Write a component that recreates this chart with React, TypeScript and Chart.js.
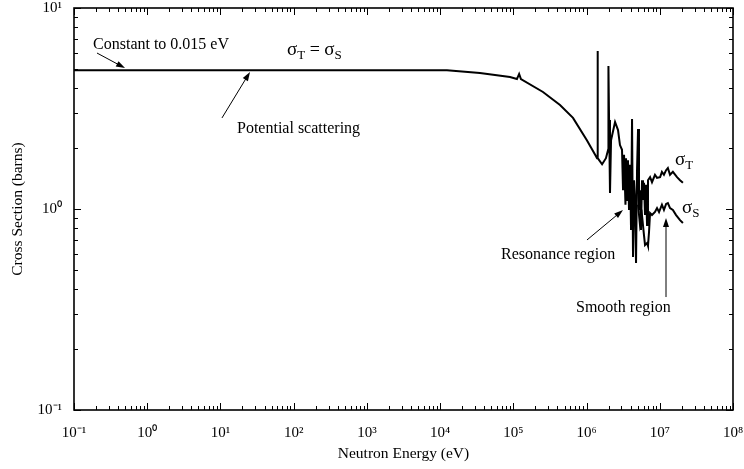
import React, { useEffect, useRef } from "react";
import { Chart, registerables } from "chart.js";

Chart.register(...registerables);

// σ_T (total = scattering below resonances), energy in eV, cross section in barns
const totalEnergy = [
  0.1, 1.24e4, 3.5e4, 9.0e4, 1.12e5, 1.2e5, 1.27e5, 2.54e5, 4.34e5, 6.53e5,
  1.01e6, 1.31e6, 1.39e6, 1.41e6, 1.43e6, 1.63e6, 1.84e6, 1.97e6, 1.99e6, 2.03e6,
  2.09e6, 2.16e6, 2.45e6, 2.69e6, 2.86e6, 3.05e6, 3.15e6, 3.25e6, 3.4e6, 3.46e6,
  3.57e6, 3.68e6, 3.8e6, 3.93e6, 4.05e6, 4.18e6, 4.31e6, 4.45e6, 4.59e6, 4.74e6,
  4.89e6, 5.05e6, 5.2e6, 5.37e6, 5.54e6, 5.72e6, 5.9e6, 6.09e6, 6.29e6, 6.49e6,
  6.7e6, 6.9e6, 7.37e6, 7.83e6, 8.6e6, 9.17e6, 1.01e7, 1.07e7, 1.14e7, 1.22e7,
  1.29e7, 1.38e7, 1.51e7, 1.72e7, 1.89e7, 2.07e7,
];
const totalSigma = [
  4.9, 4.9, 4.75, 4.54, 4.43, 4.7, 4.43, 3.82, 3.29, 2.84,
  2.2, 1.86, 1.79, 6.11, 1.79, 1.67, 1.79, 1.97, 5.14, 2.77,
  1.2, 2.2, 2.71, 2.47, 2.08, 1.97, 1.24, 1.86, 1.05, 1.79,
  1.11, 1.75, 0.989, 1.66, 0.786, 2.8, 0.577, 1.39, 1.11, 0.539,
  1.56, 2.5, 0.989, 1.24, 0.786, 1.39, 1.11, 1.35, 0.933, 1.32,
  0.832, 1.39, 1.44, 1.36, 1.48, 1.43, 1.44, 1.53, 1.48, 1.56,
  1.6, 1.48, 1.53, 1.44, 1.39, 1.35,
];

// σ_S (scattering) above the resonance region
const scatterEnergy = [
  5.05e6, 5.37e6, 5.72e6, 6.09e6, 6.29e6, 6.7e6, 6.9e6, 7.13e6, 7.37e6, 7.83e6,
  8.6e6, 9.17e6, 9.77e6, 1.07e7, 1.14e7, 1.22e7, 1.29e7, 1.38e7, 1.51e7, 1.67e7,
  1.89e7, 2.07e7,
];
const scatterSigma = [
  1.05, 0.83, 0.93, 0.74, 0.662, 0.677, 0.655, 0.768, 0.955, 0.933,
  0.966, 1.01, 0.966, 1.05, 0.989, 1.06, 1.07, 1.01, 0.989, 0.933,
  0.88, 0.852,
];

const xTickValues = [1e-1, 1e0, 1e1, 1e2, 1e3, 1e4, 1e5, 1e6, 1e7, 1e8];
const xTickLabels = ["10⁻¹", "10⁰", "10¹", "10²", "10³", "10⁴", "10⁵", "10⁶", "10⁷", "10⁸"];
const yTickValues = [1e-1, 1e0, 1e1];
const yTickLabels = ["10⁻¹", "10⁰", "10¹"];

const xTitle = "Neutron Energy (eV)";
const yTitle = "Cross Section (barns)";

const SERIF = "'Liberation Serif', 'Times New Roman', serif";

function drawArrow(ctx: CanvasRenderingContext2D, x1: number, y1: number, x2: number, y2: number) {
  const ang = Math.atan2(y2 - y1, x2 - x1);
  const hl = 9;
  const hw = 3;
  ctx.beginPath();
  ctx.moveTo(x1, y1);
  ctx.lineTo(x2 - Math.cos(ang) * hl * 0.8, y2 - Math.sin(ang) * hl * 0.8);
  ctx.stroke();
  ctx.beginPath();
  ctx.moveTo(x2, y2);
  ctx.lineTo(x2 - Math.cos(ang) * hl - Math.sin(ang) * hw, y2 - Math.sin(ang) * hl + Math.cos(ang) * hw);
  ctx.lineTo(x2 - Math.cos(ang) * hl + Math.sin(ang) * hw, y2 - Math.sin(ang) * hl - Math.cos(ang) * hw);
  ctx.closePath();
  ctx.fill();
}

function drawSigma(ctx: CanvasRenderingContext2D, x: number, y: number, sub: string, size: number) {
  ctx.font = `${size}px ${SERIF}`;
  ctx.textBaseline = "middle";
  ctx.textAlign = "left";
  ctx.fillText("σ", x, y);
  const w = ctx.measureText("σ").width;
  ctx.font = `${Math.round(size * 0.7)}px ${SERIF}`;
  ctx.fillText(sub, x + w, y + size * 0.3);
  return x + w + ctx.measureText(sub).width;
}

const framePlugin = {
  id: "frameTicks",
  afterDraw(chart: any) {
    const { ctx, chartArea } = chart;
    const { left, right, top, bottom } = chartArea;
    const xs = chart.scales.x;
    const ys = chart.scales.y;
    ctx.save();
    ctx.strokeStyle = "#000";
    ctx.fillStyle = "#000";
    ctx.lineWidth = 1.6;
    ctx.strokeRect(left, top, right - left, bottom - top);
    ctx.lineWidth = 1;
    // x ticks (inward, bottom and top)
    for (let d = -1; d <= 7; d++) {
      for (let m = 1; m <= 10; m++) {
        const v = m * Math.pow(10, d);
        const px = Math.round(xs.getPixelForValue(v)) + 0.5;
        const len = m === 1 || m === 10 ? 7 : 4;
        ctx.beginPath();
        ctx.moveTo(px, bottom);
        ctx.lineTo(px, bottom - len);
        ctx.moveTo(px, top);
        ctx.lineTo(px, top + len);
        ctx.stroke();
      }
    }
    // y ticks (inward, left and right)
    for (let d = -1; d <= 0; d++) {
      for (let m = 1; m <= 10; m++) {
        const v = m * Math.pow(10, d);
        const py = Math.round(ys.getPixelForValue(v)) + 0.5;
        const len = m === 1 || m === 10 ? 7 : 4;
        ctx.beginPath();
        ctx.moveTo(left, py);
        ctx.lineTo(left + len, py);
        ctx.moveTo(right, py);
        ctx.lineTo(right - len, py);
        ctx.stroke();
      }
    }

    const X = (logE: number) => xs.getPixelForValue(Math.pow(10, logE));
    const Y = (logS: number) => ys.getPixelForValue(Math.pow(10, logS));

    ctx.font = `16px ${SERIF}`;
    ctx.textBaseline = "middle";
    ctx.textAlign = "left";
    ctx.fillText("Constant to 0.015 eV", X(-0.74), Y(0.816));
    ctx.fillText("Potential scattering", X(1.226), Y(0.398));
    ctx.fillText("Resonance region", X(4.832), Y(-0.229));
    ctx.fillText("Smooth region", X(5.856), Y(-0.493));

    // σT = σS
    const eqY = Y(0.79);
    let cx = drawSigma(ctx, X(1.909), eqY, "T", 19);
    ctx.font = `18px ${SERIF}`;
    ctx.fillText(" = ", cx, eqY);
    cx += ctx.measureText(" = ").width;
    drawSigma(ctx, cx, eqY, "S", 19);

    drawSigma(ctx, X(7.208), Y(0.245), "T", 19);
    drawSigma(ctx, X(7.304), Y(0.005), "S", 19);

    ctx.lineWidth = 1;
    drawArrow(ctx, X(-0.686), Y(0.776), X(-0.303), Y(0.701));
    drawArrow(ctx, X(1.021), Y(0.453), X(1.404), Y(0.682));
    drawArrow(ctx, X(6.006), Y(-0.154), X(6.498), Y(-0.005));
    drawArrow(ctx, X(7.085), Y(-0.438), X(7.085), Y(-0.045));
    ctx.restore();
  },
};

export default function App() {
  const canvasRef = useRef<HTMLCanvasElement | null>(null);

  useEffect(() => {
    const canvas = canvasRef.current;
    if (!canvas) return;
    const chart = new Chart(canvas, {
      type: "line",
      data: {
        datasets: [
          {
            label: "σT",
            data: totalEnergy.map((e, i) => ({ x: e, y: totalSigma[i] })),
            borderColor: "#000",
            borderWidth: 2,
            pointRadius: 0,
            tension: 0,
            fill: false,
          },
          {
            label: "σS",
            data: scatterEnergy.map((e, i) => ({ x: e, y: scatterSigma[i] })),
            borderColor: "#000",
            borderWidth: 2,
            pointRadius: 0,
            tension: 0,
            fill: false,
          },
        ],
      },
      options: {
        animation: false,
        responsive: false,
        devicePixelRatio: 1,
        layout: { padding: { top: 8, right: 11, left: 0, bottom: 0 } },
        plugins: { legend: { display: false }, tooltip: { enabled: false } },
        scales: {
          x: {
            type: "logarithmic",
            min: 0.1,
            max: 1e8,
            grid: { display: false },
            border: { display: false },
            afterBuildTicks: (scale: any) => {
              scale.ticks = xTickValues.map((v) => ({ value: v }));
            },
            afterFit: (scale: any) => {
              scale.height = 59;
              scale.paddingLeft = 0;
              scale.paddingRight = 0;
            },
            ticks: {
              autoSkip: false,
              maxRotation: 0,
              padding: 6,
              color: "#000",
              font: { family: SERIF, size: 15 },
              callback: (value: any) => {
                const i = xTickValues.findIndex((v) => Math.abs(Math.log10(v) - Math.log10(Number(value))) < 1e-6);
                return i >= 0 ? xTickLabels[i] : "";
              },
            },
            title: {
              display: true,
              text: xTitle,
              color: "#000",
              font: { family: SERIF, size: 15.5 },
              padding: { top: 0, bottom: 6 },
            },
          },
          y: {
            type: "logarithmic",
            min: 0.1,
            max: 10,
            grid: { display: false },
            border: { display: false },
            afterBuildTicks: (scale: any) => {
              scale.ticks = yTickValues.map((v) => ({ value: v }));
            },
            afterFit: (scale: any) => {
              scale.width = 74;
              scale.paddingTop = 0;
              scale.paddingBottom = 0;
            },
            ticks: {
              autoSkip: false,
              padding: 4,
              color: "#000",
              font: { family: SERIF, size: 15 },
              callback: (value: any) => {
                const i = yTickValues.findIndex((v) => Math.abs(Math.log10(v) - Math.log10(Number(value))) < 1e-6);
                return i >= 0 ? yTickLabels[i] : "";
              },
            },
            title: {
              display: true,
              text: yTitle,
              color: "#000",
              font: { family: SERIF, size: 15.5 },
              padding: { top: 9, bottom: 0 },
            },
          },
        },
      },
      plugins: [framePlugin],
    });
    return () => chart.destroy();
  }, []);

  return (
    <div style={{ position: "fixed", left: 0, top: 0, width: 744, height: 469, background: "#fff" }}>
      <canvas ref={canvasRef} width={744} height={469} style={{ display: "block", width: 744, height: 469 }} />
    </div>
  );
}
